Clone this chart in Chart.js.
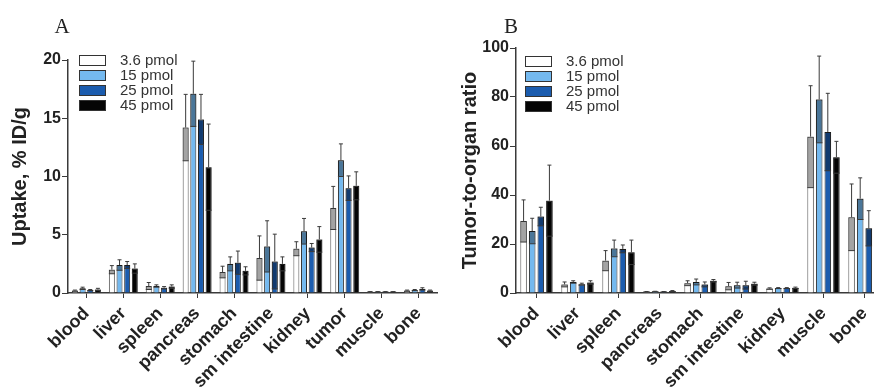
<!DOCTYPE html>
<html>
<head>
<meta charset="utf-8">
<script src="https://cdn.jsdelivr.net/npm/chart.js@4.4.0/dist/chart.umd.min.js"></script>
<style>
  html, body { margin: 0; padding: 0; background: #fff; overflow: hidden; width: 874px; height: 390px; }
  .panel { position: absolute; top: 0; }
</style>
</head>
<body>
<div class="panel" style="left:0"><canvas id="chartA" width="440" height="390"></canvas></div>
<div class="panel" style="left:440px"><canvas id="chartB" width="460" height="390"></canvas></div>
<script>
// ---- data ----
const doseLabels = ['3.6 pmol', '15 pmol', '25 pmol', '45 pmol'];
const doseColors = ['#ffffff', '#74b9ef', '#1b5cae', '#050505'];

// Panel A: uptake (% ID/g)
const organsA = ['blood', 'liver', 'spleen', 'pancreas', 'stomach', 'sm intestine', 'kidney', 'tumor', 'muscle', 'bone'];
const uptake36 = [0.2, 2.0, 0.6, 14.2, 1.8, 3.0, 3.8, 7.3, 0.1, 0.2];
const uptake15 = [0.4, 2.4, 0.6, 17.1, 2.5, 4.0, 5.3, 11.4, 0.1, 0.25];
const uptake25 = [0.25, 2.4, 0.45, 14.9, 2.6, 2.7, 3.9, 9.0, 0.1, 0.35];
const uptake45 = [0.3, 2.1, 0.55, 10.8, 1.9, 2.5, 4.6, 9.2, 0.1, 0.2];
const uptakeErr36 = [0.05, 0.35, 0.3, 2.85, 0.5, 1.9, 0.6, 1.85, 0.02, 0.05];
const uptakeErr15 = [0.1, 0.45, 0.1, 2.8, 0.6, 2.2, 1.1, 1.4, 0.02, 0.05];
const uptakeErr25 = [0.05, 0.3, 0.1, 2.15, 1.0, 2.35, 0.35, 1.05, 0.02, 0.1];
const uptakeErr45 = [0.1, 0.4, 0.15, 3.7, 0.35, 0.6, 1.1, 1.2, 0.02, 0.05];

// Panel B: tumor-to-organ ratio
const organsB = ['blood', 'liver', 'spleen', 'pancreas', 'stomach', 'sm intestine', 'kidney', 'muscle', 'bone'];
const ratio36 = [29.4, 3.5, 13.2, 0.5, 4.0, 2.8, 1.8, 63.8, 30.9];
const ratio15 = [25.3, 4.5, 18.2, 0.6, 4.5, 3.2, 2.0, 79.0, 38.5];
const ratio25 = [31.2, 3.6, 18.0, 0.5, 3.5, 3.2, 2.0, 65.7, 26.4];
const ratio45 = [37.7, 4.3, 16.6, 0.8, 5.0, 3.8, 2.1, 55.4, 22.0];
const ratioErr36 = [8.6, 1.0, 4.1, 0.1, 1.0, 1.5, 0.3, 20.8, 13.6];
const ratioErr15 = [5.2, 0.5, 3.4, 0.1, 1.2, 1.2, 0.2, 17.7, 8.5];
const ratioErr25 = [3.8, 0.4, 1.6, 0.1, 1.0, 1.6, 0.2, 15.8, 7.2];
const ratioErr45 = [14.5, 0.7, 5.0, 0.2, 0.5, 0.6, 0.3, 6.5, 12.0];

const axisColor = '#3a3a3a';
const textColor = '#222';

// error bars: shaded box from (v - sd) to v, whisker from v to v + sd
const errorBars = {
  id: 'errorBars',
  afterDatasetsDraw(chart) {
    const ctx = chart.ctx;
    const yScale = chart.scales.y;
    chart.data.datasets.forEach((ds, i) => {
      const meta = chart.getDatasetMeta(i);
      meta.data.forEach((bar, j) => {
        const v = ds.data[j], e = ds.errors[j];
        const half = bar.width / 2;
        const yTop = yScale.getPixelForValue(v + e);
        const yLow = yScale.getPixelForValue(Math.max(0, v - e));
        ctx.save();
        ctx.fillStyle = 'rgba(0,0,0,0.36)';
        ctx.fillRect(bar.x - half, bar.y, bar.width, yLow - bar.y);
        ctx.strokeStyle = axisColor;
        ctx.lineWidth = 1;
        ctx.beginPath();
        ctx.moveTo(bar.x - half, yLow); ctx.lineTo(bar.x + half, yLow);
        ctx.moveTo(bar.x, bar.y); ctx.lineTo(bar.x, yTop);
        ctx.moveTo(bar.x - 2, yTop); ctx.lineTo(bar.x + 2, yTop);
        ctx.stroke();
        ctx.restore();
      });
    });
  }
};

// legend boxes inside the plot area, top left
const boxLegend = {
  id: 'boxLegend',
  afterDraw(chart, args, opts) {
    const ctx = chart.ctx;
    const x0 = chart.chartArea.left + opts.dx;
    ctx.save();
    ctx.font = '15px "Liberation Sans", Arial, sans-serif';
    ctx.textBaseline = 'middle';
    chart.data.datasets.forEach((ds, i) => {
      const y = opts.top + i * 15;
      ctx.fillStyle = ds.backgroundColor;
      ctx.fillRect(x0, y, 26, 10);
      ctx.strokeStyle = '#333';
      ctx.lineWidth = 1;
      ctx.strokeRect(x0 + 0.5, y + 0.5, 26, 10);
      ctx.fillStyle = '#333';
      ctx.fillText(ds.label, x0 + 41, y + 6);
    });
    ctx.restore();
  }
};

// panel letter (A / B)
const panelLetter = {
  id: 'panelLetter',
  afterDraw(chart, args, opts) {
    const ctx = chart.ctx;
    ctx.save();
    ctx.font = '21px "Liberation Serif", "Times New Roman", serif';
    ctx.fillStyle = textColor;
    ctx.textAlign = 'center';
    ctx.fillText(opts.text, opts.x, opts.y);
    ctx.restore();
  }
};

function makePanel(id, labels, series, errors, cfg) {
  const ctx = document.getElementById(id).getContext('2d');
  return new Chart(ctx, {
    type: 'bar',
    data: {
      labels: labels,
      datasets: series.map((data, i) => ({
        label: doseLabels[i],
        data: data,
        errors: errors[i],
        backgroundColor: doseColors[i],
        borderColor: i === 0 ? '#555' : '#2a2a2a',
        borderWidth: 1,
        barPercentage: cfg.barPct,
        categoryPercentage: cfg.catPct
      }))
    },
    options: {
      responsive: false,
      animation: false,
      layout: { padding: { top: cfg.top, right: cfg.right, left: 0, bottom: 0 } },
      scales: {
        x: {
          offset: true,
          afterFit: (s) => { s.height = 390 - cfg.bottom; },
          grid: { offset: false, drawOnChartArea: false, drawTicks: true, tickLength: 5, tickColor: axisColor },
          border: { color: axisColor, width: 1.5 },
          ticks: {
            autoSkip: false, minRotation: 45, maxRotation: 45, padding: 5,
            color: textColor,
            font: { family: '"Liberation Sans", Arial, sans-serif', size: 18, weight: 'bold' }
          }
        },
        y: {
          min: 0, max: cfg.yMax,
          afterFit: (s) => { s.width = cfg.yWidth; },
          grid: { drawOnChartArea: false, drawTicks: true, tickLength: 6, tickColor: axisColor },
          border: { color: axisColor, width: 1.5 },
          ticks: {
            stepSize: cfg.yStep, padding: 1, color: textColor,
            font: { family: '"Liberation Sans", Arial, sans-serif', size: 16, weight: 'bold' }
          },
          title: {
            display: true, text: cfg.yTitle, color: textColor,
            padding: { top: cfg.titlePad, bottom: 0 },
            font: { family: '"Liberation Sans", Arial, sans-serif', size: 20, weight: 'bold' }
          }
        }
      },
      plugins: {
        legend: { display: false },
        tooltip: { enabled: false },
        boxLegend: { dx: cfg.legendDx, top: cfg.legendTop },
        panelLetter: { text: cfg.letter, x: cfg.letterX, y: 33 }
      }
    },
    plugins: [errorBars, boxLegend, panelLetter]
  });
}

makePanel('chartA', organsA,
  [uptake36, uptake15, uptake25, uptake45],
  [uptakeErr36, uptakeErr15, uptakeErr25, uptakeErr45],
  { top: 60, right: 3, bottom: 293, yWidth: 68, yMax: 20, yStep: 5, yTitle: 'Uptake, % ID/g',
    titlePad: 8, barPct: 0.78, catPct: 0.83, legendDx: 11, legendTop: 55, letter: 'A', letterX: 62 });

makePanel('chartB', organsB,
  [ratio36, ratio15, ratio25, ratio45],
  [ratioErr36, ratioErr15, ratioErr25, ratioErr45],
  { top: 48, right: 15, bottom: 293, yWidth: 76, yMax: 100, yStep: 20, yTitle: 'Tumor-to-organ ratio',
    titlePad: 18, barPct: 0.76, catPct: 0.84, legendDx: 9, legendTop: 56, letter: 'B', letterX: 71 });
</script>
</body>
</html>
